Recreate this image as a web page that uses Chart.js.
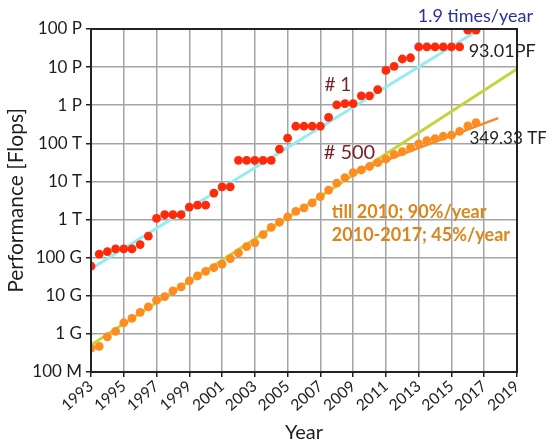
<!DOCTYPE html>
<html>
<head>
<meta charset="utf-8">
<script src="https://cdn.jsdelivr.net/npm/chart.js@4.4.1/dist/chart.umd.min.js"></script>
<style>
  html, body { margin: 0; padding: 0; background: #fff; }
  canvas { display: block; }
</style>
</head>
<body>
<canvas id="perfChart" width="546" height="447"></canvas>
<script>
// TOP500 lists, June and November of each year
const listDates = [
  1993, 1993.5, 1994, 1994.5, 1995, 1995.5, 1996, 1996.5, 1997, 1997.5,
  1998, 1998.5, 1999, 1999.5, 2000, 2000.5, 2001, 2001.5, 2002, 2002.5,
  2003, 2003.5, 2004, 2004.5, 2005, 2005.5, 2006, 2006.5, 2007, 2007.5,
  2008, 2008.5, 2009, 2009.5, 2010, 2010.5, 2011, 2011.5, 2012, 2012.5,
  2013, 2013.5, 2014, 2014.5, 2015, 2015.5, 2016, 2016.5,
];

// Rmax of the #1 system, in GFlops
const rankFirst = [
  59.7, 124, 143.4, 170, 170, 170, 220.4, 368.2, 1068, 1338,
  1338, 1338, 2121, 2379, 2379, 4938, 7226, 7226, 35860, 35860,
  35860, 35860, 35860, 70720, 136800, 280600, 280600, 280600, 280600, 478200,
  1026000, 1105000, 1105000, 1759000, 1759000, 2566000, 8162000, 10510000, 16320000, 17590000,
  33860000, 33860000, 33860000, 33860000, 33860000, 33860000, 93010000, 93010000,
];

// Rmax of the #500 system, in GFlops
const rankLast = [
  0.42, 0.47, 0.84, 1.17, 1.96, 2.56, 3.65, 5.13, 7.67, 9.51,
  13.39, 17.1, 24.73, 33.1, 43.82, 55.1, 67.78, 94.3, 134.3, 195.8,
  245.1, 403.4, 624, 850.6, 1166, 1646, 2026, 2737, 4005, 5929,
  9000, 12640, 17090, 20050, 24670, 31120, 39090, 50940, 60820, 76500,
  96620, 117800, 133700, 153400, 164000, 206300, 286000, 349300,
];

// trend lines: [year, GFlops] end points
const trendFirst = [[1993, 51], [2016.45, 83000000]];
const trendLastEarly = [[1993, 0.51], [2019, 8900000]];
const trendLastLate = [[2009, 17000], [2017.85, 460000]];

const yTickValues = [1e8, 1e9, 1e10, 1e11, 1e12, 1e13, 1e14, 1e15, 1e16, 1e17];
const yTickLabels = ['100 M', '1 G', '10 G', '100 G', '1 T', '10 T', '100 T', '1 P', '10 P', '100 P'];

// text notes, left aligned: [text, year, flops, colour, font]
const notes = [
  ['1.9 times/year', 2012.95, 2.2e17, '#2b2f9c', '18px Lato'],
  ['93.01PF', 2016.05, 2.6e16, '#222222', '18px Lato'],
  ['# 1', 2007.25, 3.35e15, '#7a1f24', '19px Lato'],
  ['# 500', 2007.2, 5.8e13, '#7a1f24', '20px Lato'],
  ['349.33 TF', 2016.1, 1.35e14, '#222222', '17px Lato'],
  ['till 2010; 90%/year', 2007.7, 1.55e12, '#d9861c', 'bold 18px Lato'],
  ['2010-2017; 45%/year', 2007.7, 4.0e11, '#d9861c', 'bold 18px Lato'],
];

const toGF = v => v * 1e9;
const points = (xs, ys) => xs.map((x, i) => ({ x: x, y: toGF(ys[i]) }));
const segment = pts => pts.map(p => ({ x: p[0], y: toGF(p[1]) }));

const frameAndNotes = {
  id: 'frameAndNotes',
  afterDraw(chart) {
    const { ctx, chartArea: a, scales } = chart;
    ctx.save();
    ctx.strokeStyle = '#222';
    ctx.lineWidth = 2;
    ctx.strokeRect(a.left, a.top, a.right - a.left, a.bottom - a.top);
    ctx.textBaseline = 'middle';
    ctx.textAlign = 'left';
    notes.forEach(([text, yr, fl, color, font]) => {
      ctx.font = font;
      ctx.fillStyle = color;
      ctx.fillText(text, scales.x.getPixelForValue(yr), scales.y.getPixelForValue(fl));
    });
    ctx.restore();
  }
};

const ctx = document.getElementById('perfChart').getContext('2d');

new Chart(ctx, {
  type: 'scatter',
  data: {
    datasets: [
      {
        label: '#1',
        data: points(listDates, rankFirst),
        backgroundColor: '#ff2a0a',
        borderWidth: 0,
        pointRadius: 4.4,
        order: 1,
      },
      {
        label: '#500',
        data: points(listDates, rankLast),
        backgroundColor: '#ff8c1f',
        borderWidth: 0,
        pointRadius: 4.4,
        order: 2,
      },
      {
        label: '1.9 times/year',
        type: 'line',
        data: segment(trendFirst),
        borderColor: '#94ecf2',
        borderWidth: 3,
        pointRadius: 0,
        order: 5,
      },
      {
        label: '90%/year',
        type: 'line',
        data: segment(trendLastEarly),
        borderColor: '#c4d43a',
        borderWidth: 3,
        pointRadius: 0,
        order: 4,
      },
      {
        label: '45%/year',
        type: 'line',
        data: segment(trendLastLate),
        borderColor: '#f2892a',
        borderWidth: 2.5,
        pointRadius: 0,
        order: 3,
      },
    ],
  },
  options: {
    responsive: false,
    animation: false,
    devicePixelRatio: 1,
    layout: { padding: { top: 29, right: 29, left: 0, bottom: 0 } },
    plugins: {
      legend: { display: false },
      tooltip: { enabled: false },
    },
    scales: {
      x: {
        type: 'linear',
        min: 1993,
        max: 2019,
        afterFit: s => { s.height = 75; },
        ticks: {
          stepSize: 2,
          autoSkip: false,
          minRotation: 41,
          maxRotation: 41,
          padding: 0,
          color: '#1e1e1e',
          font: { family: 'Lato', size: 15.5 },
          callback: v => String(v),
        },
        grid: { color: '#a4a4a4', lineWidth: 1.5, tickLength: 5, tickColor: '#222' },
        border: { color: '#222', width: 2 },
        title: {
          display: true,
          text: 'Year',
          color: '#1e1e1e',
          font: { family: 'Lato', size: 20 },
          padding: { top: 0, bottom: 2 },
        },
      },
      y: {
        type: 'logarithmic',
        min: 1e8,
        max: 1e17,
        afterFit: s => { s.width = 91; },
        afterBuildTicks: s => { s.ticks = yTickValues.map(v => ({ value: v })); },
        ticks: {
          padding: 4,
          color: '#1e1e1e',
          font: { family: 'Lato', size: 17 },
          callback: v => yTickLabels[yTickValues.indexOf(v)],
        },
        grid: { color: '#a4a4a4', lineWidth: 1.5, tickLength: 5, tickColor: '#222' },
        border: { color: '#222', width: 2 },
        title: {
          display: true,
          text: 'Performance [Flops]',
          color: '#1e1e1e',
          font: { family: 'Lato', size: 21 },
          padding: { top: 4, bottom: 0 },
        },
      },
    },
  },
  plugins: [frameAndNotes],
});
</script>
</body>
</html>
